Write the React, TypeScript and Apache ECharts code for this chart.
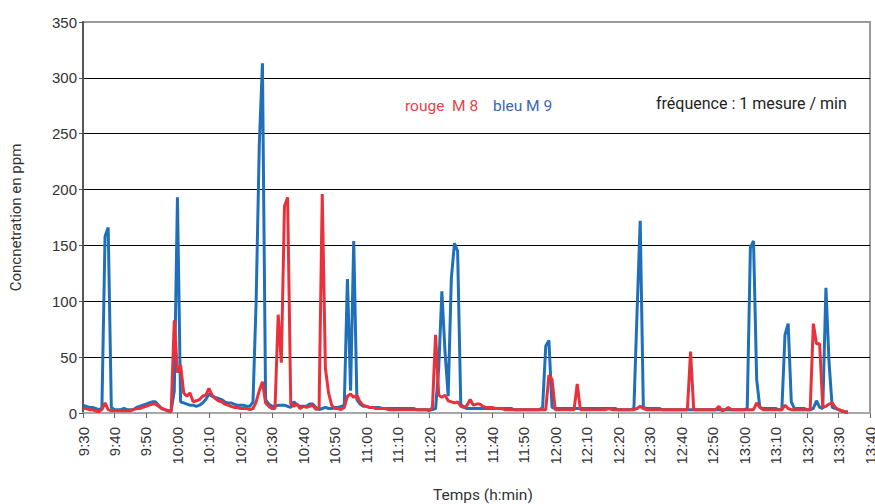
import React, { useEffect, useRef } from "react";
import * as echarts from "echarts";

// minutes since 9:30, one measure per minute
const bleuM9: number[] = [
  7, 6, 5, 5, 4, 3, 4, 158, 166, 5,
  3, 3, 3, 4, 3, 3, 3, 5, 6, 7,
  8, 9, 10, 10, 7, 4, 3, 2, 2, 20,
  193, 10, 9, 8, 7, 7, 6, 7, 9, 12,
  17, 15, 14, 13, 12, 10, 9, 9, 8, 7,
  7, 7, 6, 6, 10, 100, 240, 313, 12, 8,
  6, 6, 7, 7, 7, 6, 5, 10, 7, 6,
  6, 6, 8, 8, 5, 3, 4, 5, 4, 4,
  5, 5, 6, 7, 120, 20, 154, 12, 8, 6,
  6, 5, 5, 5, 5, 4, 4, 4, 4, 4,
  4, 4, 4, 4, 4, 4, 3, 3, 3, 3,
  3, 3, 4, 40, 109, 55, 15, 120, 152, 145,
  8, 5, 4, 4, 4, 4, 4, 4, 4, 4,
  4, 4, 4, 4, 4, 4, 4, 3, 3, 3,
  3, 3, 3, 3, 3, 3, 5, 60, 65, 5,
  4, 4, 4, 4, 4, 4, 4, 4, 4, 4,
  4, 4, 4, 4, 4, 4, 4, 4, 4, 4,
  3, 3, 3, 3, 3, 4, 90, 172, 5, 4,
  4, 4, 4, 4, 3, 3, 3, 3, 3, 3,
  3, 3, 3, 3, 3, 3, 3, 3, 3, 3,
  3, 3, 3, 3, 3, 3, 3, 3, 3, 3,
  3, 4, 148, 154, 30, 5, 4, 4, 4, 4,
  4, 3, 3, 70, 80, 10, 4, 4, 4, 4,
  3, 3, 4, 11, 5, 4, 112, 45, 5, 4,
  3, 2, 1, 1,
];

const rougeM8: number[] = [
  4, 4, 3, 3, 2, 1, 3, 9, 3, 2,
  2, 2, 2, 2, 2, 2, 3, 4, 4, 5,
  6, 7, 8, 8, 6, 4, 3, 2, 1, 83,
  36, 43, 18, 15, 18, 10, 11, 12, 15, 16,
  22, 16, 13, 11, 10, 8, 7, 6, 5, 5,
  4, 4, 4, 3, 4, 10, 20, 28, 9, 6,
  4, 4, 88, 45, 185, 193, 8, 6, 8, 4,
  6, 5, 6, 7, 3, 5, 196, 40, 18, 7,
  4, 4, 3, 5, 15, 17, 14, 16, 10, 7,
  6, 5, 5, 4, 4, 4, 4, 3, 3, 3,
  3, 3, 3, 3, 3, 3, 3, 3, 3, 3,
  2, 5, 70, 16, 14, 16, 11, 10, 9, 10,
  6, 5, 7, 12, 7, 8, 8, 6, 5, 5,
  5, 4, 4, 4, 3, 3, 3, 3, 3, 3,
  3, 3, 3, 3, 3, 3, 3, 3, 34, 30,
  3, 3, 3, 3, 3, 3, 3, 26, 3, 3,
  3, 3, 3, 3, 3, 3, 3, 4, 3, 3,
  3, 3, 3, 3, 3, 3, 4, 6, 4, 3,
  3, 3, 3, 3, 3, 3, 3, 3, 3, 3,
  3, 3, 3, 55, 3, 3, 3, 3, 3, 3,
  3, 3, 6, 2, 3, 5, 3, 3, 3, 3,
  3, 3, 3, 3, 9, 5, 3, 3, 3, 3,
  3, 3, 3, 7, 4, 3, 3, 3, 3, 3,
  3, 3, 80, 62, 62, 5, 6, 8, 9, 5,
  3, 2, 1, 1,
];

const startMinutes = 9 * 60 + 30;
const xMax = 250;
const xInterval = 10;
const yMax = 350;
const yInterval = 50;

const legendRouge = "rouge  M 8";
const legendBleu = "bleu M 9";
const noteFrequence = "fréquence : 1 mesure / min";
const yName = "Concnetration en ppm";
const xName = "Temps (h:min)";

function fmtTime(m: number): string {
  const t = startMinutes + Math.round(m);
  const h = Math.floor(t / 60);
  const mm = t % 60;
  return `${h}:${mm < 10 ? "0" + mm : mm}`;
}

export default function App() {
  const ref = useRef<HTMLDivElement>(null);
  useEffect(() => {
    if (!ref.current) return;
    const chart = echarts.init(ref.current, undefined, { renderer: "svg" });
    const tickFont = "Liberation Sans";
    const textFont = "Roboto";
    chart.setOption({
      animation: false,
      backgroundColor: "#ffffff",
      grid: {
        left: 83,
        right: 5,
        top: 22,
        bottom: 91,
        containLabel: false,
        outerBoundsMode: "none",
        show: true,
        borderColor: "#9a9a9a",
        borderWidth: 2,
        backgroundColor: "transparent",
      },
      xAxis: {
        type: "value",
        min: 0,
        max: xMax,
        interval: xInterval,
        axisLine: { show: true, onZero: false, lineStyle: { color: "#a8a8a8", width: 2 } },
        axisTick: { show: true, length: 5, lineStyle: { color: "#666" } },
        splitLine: { show: false },
        axisLabel: {
          rotate: 90,
          margin: 14,
          fontSize: 15,
          fontFamily: tickFont,
          color: "#333",
          formatter: (v: number) => fmtTime(v),
        },
      },
      yAxis: {
        type: "value",
        min: 0,
        max: yMax,
        interval: yInterval,
        name: yName,
        nameLocation: "middle",
        nameRotate: 90,
        nameGap: 60,
        nameTextStyle: { fontSize: 15, fontFamily: textFont, color: "#333" },
        axisLine: { show: true, lineStyle: { color: "#555", width: 2 } },
        axisTick: { show: true, length: 4, lineStyle: { color: "#555" } },
        axisLabel: { fontSize: 15, fontFamily: tickFont, color: "#333", margin: 6 },
        splitLine: {
          show: true,
          lineStyle: {
            color: ["#a8a8a8", "#000", "#000", "#000", "#000", "#000", "#000", "#9a9a9a"],
            width: 1,
          },
        },
      },
      series: [
        {
          name: "bleu M 9",
          type: "line",
          data: bleuM9.map((v, i) => [i, v]),
          symbol: "none",
          lineStyle: { color: "#1f6fb9", width: 3 },
          z: 2,
        },
        {
          name: "rouge M 8",
          type: "line",
          data: rougeM8.map((v, i) => [i, v]),
          symbol: "none",
          lineStyle: { color: "#e8313a", width: 3 },
          z: 3,
        },
      ],
      graphic: [
        {
          type: "text",
          left: 405,
          top: 98,
          style: { text: legendRouge, fill: "#e8434a", fontSize: 15.5, fontFamily: textFont },
        },
        {
          type: "text",
          left: 493,
          top: 98,
          style: { text: legendBleu, fill: "#3a66b3", fontSize: 15.5, fontFamily: textFont },
        },
        {
          type: "text",
          left: 656,
          top: 95,
          style: { text: noteFrequence, fill: "#222", fontSize: 16, fontFamily: textFont },
        },
        {
          type: "text",
          left: 433,
          top: 487,
          style: { text: xName, fill: "#333", fontSize: 15.5, fontFamily: textFont },
        },
      ],
    });
    return () => chart.dispose();
  }, []);
  return (
    <div
      ref={ref}
      style={{ position: "fixed", left: 0, top: 0, width: 875, height: 504 }}
    />
  );
}
